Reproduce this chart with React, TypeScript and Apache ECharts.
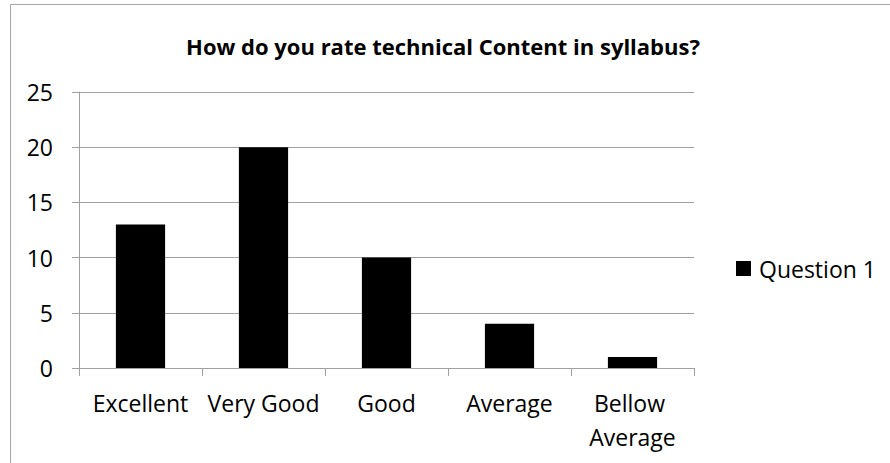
import React, { useEffect, useRef } from "react";
import * as echarts from "echarts";

const categories = ["Excellent", "Very Good", "Good", "Average", "Bellow Average"];
const question1 = [13, 20, 10, 4, 1];
const seriesName = "Question 1";
const titleText = "How do you rate technical Content in syllabus?";

const FONT = "'Open Sans', 'Noto Sans', sans-serif";

export default function App() {
  const ref = useRef<HTMLDivElement>(null);

  useEffect(() => {
    document.body.style.margin = "0";
    const chart = echarts.init(ref.current!, null, { renderer: "svg" });
    chart.setOption({
      animation: false,
      backgroundColor: "#ffffff",
      textStyle: { fontFamily: FONT, color: "#000" },
      title: {
        text: titleText,
        left: 438,
        top: 30,
        textAlign: "center",
        textStyle: { fontFamily: FONT, fontWeight: "bold", fontSize: 22, color: "#000" },
      },
      graphic: [
        {
          type: "rect",
          shape: { x: 10.5, y: 4.5, width: 900, height: 480 },
          style: { fill: "none", stroke: "#a6a6a6", lineWidth: 1 },
          silent: true,
          z: -1,
        },
      ],
      legend: {
        left: 731,
        top: 252,
        icon: "rect",
        itemWidth: 15,
        itemHeight: 15,
        itemGap: 6,
        textStyle: { fontFamily: FONT, fontSize: 23, color: "#000", padding: [0, 0, 0, 3] },
        data: [seriesName],
      },
      grid: { left: 79, right: 196, top: 92, bottom: 95, containLabel: false },
      xAxis: {
        type: "category",
        data: categories,
        axisLine: { show: true, lineStyle: { color: "#a0a0a0", width: 1 } },
        axisTick: { show: true, length: 8, lineStyle: { color: "#a0a0a0" } },
        axisLabel: {
          fontFamily: FONT,
          fontSize: 23,
          color: "#000",
          margin: 18,
          interval: 0,
          width: 120,
          overflow: "break",
          lineHeight: 34,
          verticalAlign: "top",
        },
      },
      yAxis: {
        type: "value",
        min: 0,
        max: 25,
        interval: 5,
        axisLine: { show: true, lineStyle: { color: "#a0a0a0", width: 1 } },
        axisTick: { show: true, length: 7, lineStyle: { color: "#a0a0a0" } },
        splitLine: { show: true, lineStyle: { color: "#a0a0a0", width: 1 } },
        axisLabel: { fontFamily: FONT, fontSize: 23, color: "#000", margin: 26 },
      },
      series: [
        {
          name: seriesName,
          type: "bar",
          data: question1,
          barWidth: "40%",
          itemStyle: { color: "#000000" },
        },
      ],
    });
    return () => chart.dispose();
  }, []);

  return (
    <div
      ref={ref}
      style={{ position: "fixed", left: 0, top: 0, width: 890, height: 463 }}
    />
  );
}
